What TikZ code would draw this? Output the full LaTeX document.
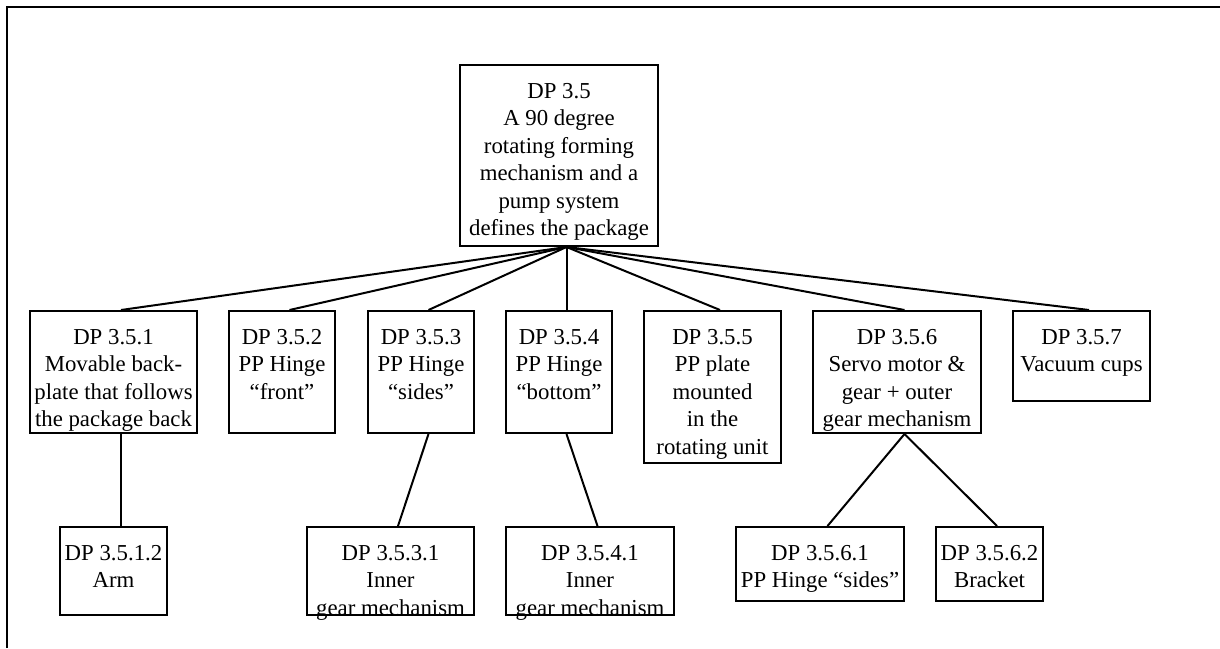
\documentclass[tikz,border=0pt]{standalone}
\usepackage{fontspec}
\setmainfont{Liberation Serif}
\usetikzlibrary{positioning}

\begin{document}
\begin{tikzpicture}[x=1pt, y=-1pt,
        dpbox/.style={draw, line width=2pt, rectangle, anchor=north west, inner sep=0pt},
        dptext/.style={anchor=north, align=center, inner sep=0pt,
            font=\fontsize{22.8}{27.5}\selectfont},
        link/.style={line width=2pt}
    ]
        % Define layout properties
        \def\lineshift{7.5pt}  % connectors sit a little right of the box centres
        \def\textdrop{-19pt}   % first text line below the top border

        % Page and outer frame (only its top and left sides fall inside the page)
        \useasboundingbox (0,0) rectangle (1220,648);
        \draw[line width=2.5pt] (7,648) -- (7,7) -- (1220,7);

        % Top level
        \node[dpbox, minimum width=198pt, minimum height=181pt] (root) at (459,64) {};
        \node[dptext] (roott) at ([yshift=\textdrop]root.north) {DP 3.5\\A 90 degree\\rotating forming\\mechanism and a\\pump system\\defines the package};

        % Second level
        \node[dpbox, minimum width=167pt, minimum height=122pt] (dp351) at (29,310) {};
        \node[dptext] (dp351t) at ([yshift=\textdrop]dp351.north) {DP 3.5.1\\Movable back-\\plate that follows\\the package back};

        \node[dpbox, minimum width=106pt, minimum height=122pt] (dp352) at (228,310) {};
        \node[dptext] (dp352t) at ([yshift=\textdrop]dp352.north) {DP 3.5.2\\PP Hinge\\``front''};

        \node[dpbox, minimum width=106pt, minimum height=122pt] (dp353) at (367,310) {};
        \node[dptext] (dp353t) at ([yshift=\textdrop]dp353.north) {DP 3.5.3\\PP Hinge\\``sides''};

        \node[dpbox, minimum width=106pt, minimum height=122pt] (dp354) at (505,310) {};
        \node[dptext] (dp354t) at ([yshift=\textdrop]dp354.north) {DP 3.5.4\\PP Hinge\\``bottom''};

        \node[dpbox, minimum width=137pt, minimum height=152pt] (dp355) at (643,310) {};
        \node[dptext] (dp355t) at ([yshift=\textdrop]dp355.north) {DP 3.5.5\\PP plate\\mounted\\in the\\rotating unit};

        \node[dpbox, minimum width=168pt, minimum height=122pt] (dp356) at (812,310) {};
        \node[dptext] (dp356t) at ([yshift=\textdrop]dp356.north) {DP 3.5.6\\Servo motor \&\\gear + outer\\gear mechanism};

        \node[dpbox, minimum width=137pt, minimum height=90pt] (dp357) at (1012,310) {};
        \node[dptext] (dp357t) at ([yshift=\textdrop]dp357.north) {DP 3.5.7\\Vacuum cups};

        % Third level
        \node[dpbox, minimum width=107pt, minimum height=88pt] (dp3512) at (59,526) {};
        \node[dptext] (dp3512t) at ([yshift=\textdrop]dp3512.north) {DP 3.5.1.2\\Arm};

        \node[dpbox, minimum width=167pt, minimum height=88pt] (dp3531) at (306,526) {};
        \node[dptext] (dp3531t) at ([yshift=\textdrop]dp3531.north) {DP 3.5.3.1\\Inner\\gear mechanism};

        \node[dpbox, minimum width=168pt, minimum height=88pt] (dp3541) at (505,526) {};
        \node[dptext] (dp3541t) at ([yshift=\textdrop]dp3541.north) {DP 3.5.4.1\\Inner\\gear mechanism};

        \node[dpbox, minimum width=168pt, minimum height=74pt] (dp3561) at (735,526) {};
        \node[dptext] (dp3561t) at ([yshift=\textdrop]dp3561.north) {DP 3.5.6.1\\PP Hinge ``sides''};

        \node[dpbox, minimum width=107pt, minimum height=74pt] (dp3562) at (935,526) {};
        \node[dptext] (dp3562t) at ([yshift=\textdrop]dp3562.north) {DP 3.5.6.2\\Bracket};

        % Connectors
        \foreach \child in {dp351,dp352,dp353,dp354,dp355,dp356,dp357}
            \draw[link] ([xshift=\lineshift]root.south) -- ([xshift=\lineshift]\child.north);
        \draw[link] ([xshift=\lineshift]dp351.south) -- ([xshift=\lineshift]dp3512.north);
        \draw[link] ([xshift=\lineshift]dp353.south) -- ([xshift=\lineshift]dp3531.north);
        \draw[link] ([xshift=\lineshift]dp354.south) -- ([xshift=\lineshift]dp3541.north);
        \draw[link] ([xshift=\lineshift]dp356.south) -- ([xshift=\lineshift]dp3561.north);
        \draw[link] ([xshift=\lineshift]dp356.south) -- ([xshift=\lineshift]dp3562.north);
    \end{tikzpicture}
\end{document}
